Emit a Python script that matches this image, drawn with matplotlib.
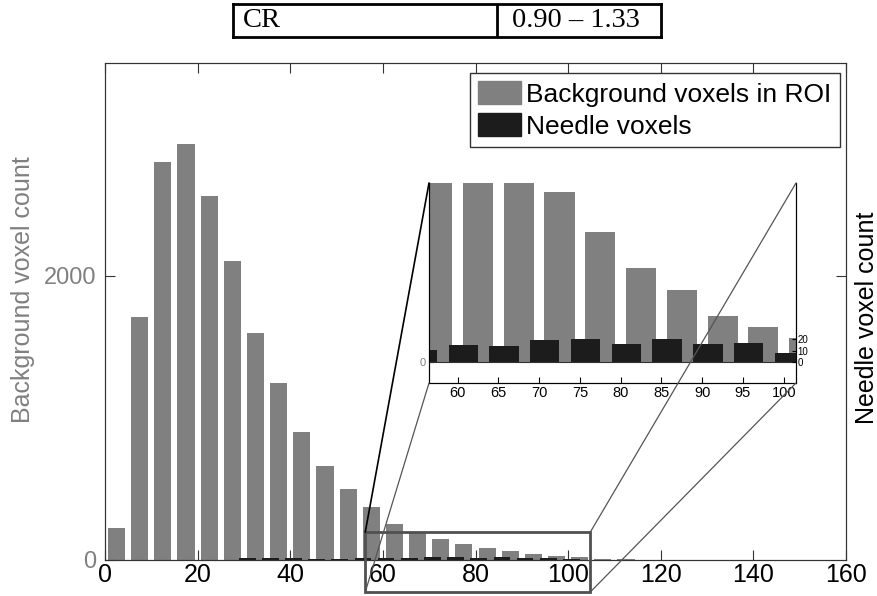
import matplotlib
matplotlib.use("Agg")
import matplotlib.pyplot as plt
from matplotlib.patches import Patch, Rectangle, ConnectionPatch

plt.rcParams['font.family'] = ['Liberation Sans', 'DejaVu Sans']

# histogram of background voxels (bin centres, counts)
bg_centers = [2.5, 7.5, 12.5, 17.5, 22.5, 27.5, 32.5, 37.5, 42.5, 47.5, 52.5, 57.5, 62.5,
              67.5, 72.5, 77.5, 82.5, 87.5, 92.5, 97.5, 102.5, 107.5, 112.5, 117.5, 122.5]
bg_counts = [226, 1713, 2806, 2933, 2562, 2106, 1600, 1250, 901, 662, 500, 374, 254,
             200, 148, 113, 82, 63, 40, 31, 21, 4, 5, 2, 3]

# histogram of needle voxels
needle_centers = [25.7, 30.7, 35.7, 40.7, 45.7, 50.7, 55.7, 60.7, 65.7, 70.7, 75.7,
                  80.7, 85.7, 90.7, 95.7, 100.7]
needle_counts = [3, 12, 14, 12, 5, 6, 11, 15, 14, 19, 20, 16, 20, 16, 17, 8]

x_ticks = [0, 20, 40, 60, 80, 100, 120, 140, 160]
inset_ticks = [60, 65, 70, 75, 80, 85, 90, 95, 100]

gray = '#808080'
dark = '#1c1c1c'
W, H = 878, 596

fig = plt.figure(figsize=(W / 100, H / 100), dpi=100)

# main plot
ax = fig.add_axes([105 / W, 36 / H, 741 / W, 497 / H])
ax.bar(bg_centers, bg_counts, width=3.7, color=gray)
ax.set_xlim(0, 160)
ax.set_ylim(0, 3500)
ax.set_xticks(x_ticks)
ax.set_yticks([0, 2000])
ax.tick_params(axis='x', direction='in', length=7, top=True, labelsize=18, pad=2,
               color='#333333')
ax.tick_params(axis='y', direction='in', length=7, labelsize=17, labelcolor=gray,
               pad=6, color='#333333')
for s in ax.spines.values():
    s.set_color('#333333')

ax2 = ax.twinx()
ax2.bar(needle_centers, needle_counts, width=3.6, color=dark)
ax2.set_ylim(0, 3500)
ax2.set_yticks([2000])
ax2.set_yticklabels([])
ax2.tick_params(axis='y', direction='in', length=7, color='#333333')
for s in ax2.spines.values():
    s.set_color('#333333')

fig.text(23 / W, 1 - 290 / H, 'Background voxel count', rotation=90, color=gray,
         fontsize=18, ha='center', va='center')
fig.text(867 / W, 1 - 318 / H, 'Needle voxel count', rotation=90, color='black',
         fontsize=18, ha='center', va='center')

leg = ax2.legend(handles=[Patch(color=gray, label='Background voxels in ROI'),
                          Patch(color=dark, label='Needle voxels')],
                 loc='upper right', bbox_to_anchor=(840 / W, 1 - 73 / H),
                 bbox_transform=fig.transFigure, borderaxespad=0, fontsize=19,
                 fancybox=False, framealpha=1, edgecolor='#333333',
                 handlelength=1.63, handleheight=0.95, handletextpad=0.2,
                 labelspacing=0.25, borderpad=0.32)
leg.get_frame().set_linewidth(1)

# zoomed inset
axin = fig.add_axes([429 / W, (H - 383) / H, 367 / W, 200 / H])
axin.bar(bg_centers, bg_counts, width=3.7, color=gray)
axin.set_xlim(56.5, 101.5)
axin.set_ylim(-18, 156)
axin.set_xticks(inset_ticks)
axin.set_yticks([0])
axin.spines['top'].set_visible(False)
axin.tick_params(axis='x', direction='in', length=4, labelsize=10.5, pad=2)
axin.tick_params(axis='y', direction='in', length=3, labelsize=8, labelcolor=gray, pad=2)
axin.axhline(0, color='#333333', lw=0.8)

axin2 = axin.twinx()
axin2.bar(needle_centers, needle_counts, width=3.6, color=dark)
axin2.set_ylim(-18, 156)
axin2.set_yticks([0, 10, 20])
axin2.spines['top'].set_visible(False)
axin2.tick_params(axis='y', direction='in', length=3, labelsize=7, pad=1)

# region box and connector lines
box_x0, box_x1, box_y0, box_y1 = 56.2, 104.8, -225, 197
fig.add_artist(Rectangle((box_x0, box_y0), box_x1 - box_x0, box_y1 - box_y0,
                         transform=ax.transData, fill=False, edgecolor='#505050', lw=2))
links = [((box_x0, box_y1), (0, 1), 'black', 1.2),
         ((box_x0, box_y0), (0, 0), '#555555', 0.9),
         ((box_x1, box_y1), (1, 1), '#555555', 0.9),
         ((box_x1, box_y0), (1, 0), '#555555', 0.9)]
for pa, pb, c, lw in links:
    fig.add_artist(ConnectionPatch(xyA=pa, coordsA=ax.transData, xyB=pb,
                                   coordsB=axin.transAxes, color=c, lw=lw))

# table row at the top
tab = fig.add_axes([233 / W, 1 - 37 / H, 428 / W, 33 / H])
tab.set_xticks([])
tab.set_yticks([])
for s in tab.spines.values():
    s.set_linewidth(2)
tab.axvline((497 - 233) / 428, color='black', lw=2)
tab.text(10 / 428, 0.5, 'CR', family='Liberation Serif', fontsize=20.5, va='center')
tab.text((512 - 233) / 428, 0.5, '0.90 \u2013 1.33', family='Liberation Serif',
         fontsize=20.5, va='center')

plt.savefig('out.png', dpi=100)
